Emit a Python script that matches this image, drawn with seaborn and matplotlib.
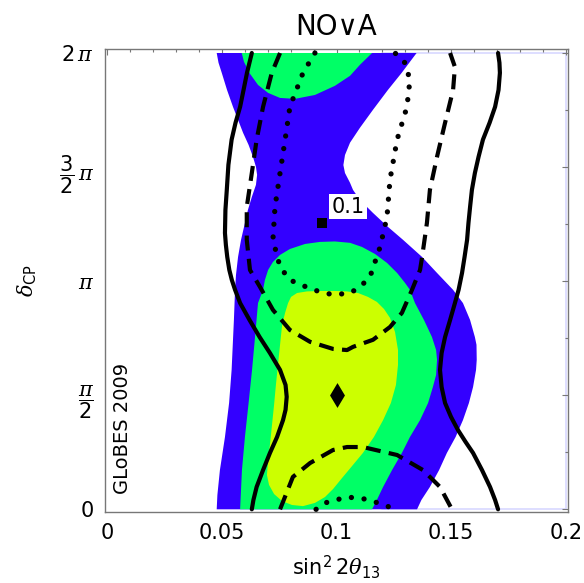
import numpy as np
import matplotlib
matplotlib.use("Agg")
import matplotlib.pyplot as plt
import seaborn as sns
from matplotlib.ticker import MultipleLocator

# ---------------- data (x = sin^2 2theta13, d = delta_CP / pi) ----------------
title = "NO\u2228A"
x_label = r"$\sin^2 2\theta_{13}$"
y_label = r"$\delta_{\mathrm{CP}}$"
watermark = "GLoBES 2009"

x_ticks = [0, 0.05, 0.1, 0.15, 0.2]
x_tick_labels = ["0", "0.05", "0.1", "0.15", "0.2"]
y_ticks = [0, 0.5, 1.0, 1.5, 2.0]
y_tick_labels = ["0", r"$\dfrac{\pi}{2}$", r"$\pi$", r"$\dfrac{3}{2}\,\pi$", r"$2\,\pi$"]

# 3 sigma region (blue): left edge top->bottom, right edge bottom->top
blue_left_x = [0.0478, 0.0486, 0.0500, 0.0523, 0.0549, 0.0571, 0.0593, 0.0617, 0.0636, 0.0649,
               0.0654, 0.0649, 0.0631, 0.0614, 0.0601, 0.0584, 0.0571, 0.0562, 0.0558, 0.0553,
               0.0543, 0.0532, 0.0514, 0.0492, 0.0481, 0.0478]
blue_left_d = [2.0, 1.957, 1.913, 1.838, 1.764, 1.707, 1.650, 1.597, 1.545, 1.501,
               1.466, 1.422, 1.369, 1.312, 1.255, 1.181, 1.106, 1.027, 0.962, 0.830,
               0.611, 0.466, 0.317, 0.172, 0.063, 0.0]
blue_right_x = [0.1351, 0.1370, 0.1407, 0.1447, 0.1481, 0.1519, 0.1551, 0.1577, 0.1595, 0.1608,
                0.1611, 0.1610, 0.1603, 0.1582, 0.1551, 0.1508, 0.1438, 0.1373, 0.1290, 0.1224,
                0.1159, 0.1102, 0.1072, 0.1059, 0.1037, 0.1030, 0.1037, 0.1059, 0.1102, 0.1159,
                0.1224, 0.1284, 0.1349]
blue_right_d = [0.0, 0.041, 0.098, 0.172, 0.247, 0.317, 0.391, 0.466, 0.536, 0.611,
                0.655, 0.721, 0.755, 0.830, 0.904, 0.962, 1.036, 1.106, 1.181, 1.238,
                1.299, 1.356, 1.400, 1.431, 1.474, 1.509, 1.553, 1.607, 1.672, 1.751,
                1.838, 1.913, 2.0]

# 2 sigma region (green): lower lobe and upper lobe
green_lo_x = [0.0580, 0.0588, 0.0601, 0.0617, 0.0632, 0.0645, 0.0658, 0.0680, 0.0688, 0.0702,
              0.0723, 0.0754, 0.0797, 0.0863, 0.0928, 0.0993, 0.1059, 0.1111, 0.1168, 0.1220,
              0.1264, 0.1298, 0.1320, 0.1342, 0.1381, 0.1416, 0.1434, 0.1438, 0.1434, 0.1420,
              0.1399, 0.1364, 0.1320, 0.1285, 0.1242, 0.1203, 0.1176, 0.1155]
green_lo_d = [0.0, 0.172, 0.317, 0.466, 0.611, 0.755, 0.904, 0.962, 1.005, 1.049,
              1.084, 1.115, 1.141, 1.163, 1.172, 1.174, 1.168, 1.150, 1.119, 1.080,
              1.036, 0.993, 0.962, 0.904, 0.830, 0.755, 0.698, 0.655, 0.589, 0.536,
              0.466, 0.391, 0.317, 0.247, 0.172, 0.098, 0.041, 0.0]
green_hi_x = [0.0587, 0.0597, 0.0623, 0.0658, 0.0702, 0.0754, 0.0819, 0.0906, 0.0993, 0.1059,
              0.1102, 0.1155]
green_hi_d = [2.0, 1.961, 1.909, 1.860, 1.825, 1.803, 1.799, 1.816, 1.856, 1.900,
              1.948, 2.0]

# 1 sigma region (yellow)
yellow_x = [0.0789, 0.0802, 0.0828, 0.0871, 0.0928, 0.0993, 0.1046, 0.1094, 0.1137, 0.1176,
            0.1207, 0.1233, 0.1255, 0.1268, 0.1268, 0.1259, 0.1237, 0.1203, 0.1163, 0.1115,
            0.1068, 0.1024, 0.0985, 0.0950, 0.0906, 0.0854, 0.0806, 0.0763, 0.0728, 0.0706,
            0.0697, 0.0702, 0.0710, 0.0719, 0.0728, 0.0736, 0.0745, 0.0754, 0.0763, 0.0776]
yellow_d = [0.904, 0.931, 0.948, 0.955, 0.957, 0.957, 0.955, 0.948, 0.931, 0.909,
            0.878, 0.839, 0.777, 0.698, 0.633, 0.545, 0.466, 0.391, 0.317, 0.247,
            0.190, 0.137, 0.089, 0.054, 0.028, 0.014, 0.019, 0.036, 0.067, 0.107,
            0.150, 0.216, 0.283, 0.370, 0.458, 0.545, 0.633, 0.721, 0.808, 0.861]

# solid contours
solid_l_x = [0.0631, 0.0610, 0.0595, 0.0580, 0.0560, 0.0543, 0.0529, 0.0522, 0.0516, 0.0514,
             0.0518, 0.0524, 0.0533, 0.0544, 0.0558, 0.0580, 0.0621, 0.0665, 0.0710, 0.0754,
             0.0778, 0.0783, 0.0778, 0.0767, 0.0741, 0.0710, 0.0680, 0.0652, 0.0638, 0.0631]
solid_l_d = [2.0, 1.913, 1.838, 1.764, 1.694, 1.620, 1.510, 1.400, 1.312, 1.211,
             1.159, 1.106, 1.049, 1.005, 0.962, 0.904, 0.830, 0.755, 0.685, 0.611,
             0.545, 0.493, 0.436, 0.391, 0.317, 0.247, 0.172, 0.098, 0.041, 0.0]
solid_r_x = [0.1704, 0.1710, 0.1712, 0.1706, 0.1691, 0.1667, 0.1638, 0.1619, 0.1603, 0.1590,
             0.1582, 0.1575, 0.1569, 0.1558, 0.1547, 0.1532, 0.1516, 0.1495, 0.1473, 0.1458,
             0.1451, 0.1458, 0.1473, 0.1499, 0.1529, 0.1562, 0.1595, 0.1634, 0.1669, 0.1691,
             0.1704]
solid_r_d = [2.0, 1.957, 1.913, 1.838, 1.764, 1.694, 1.620, 1.545, 1.474, 1.400,
             1.325, 1.255, 1.181, 1.106, 1.036, 0.962, 0.904, 0.830, 0.755, 0.685,
             0.611, 0.536, 0.466, 0.405, 0.348, 0.296, 0.247, 0.172, 0.098, 0.041,
             0.0]

# dashed contours
dash_hi_x = [0.0754, 0.0718, 0.0680, 0.0652, 0.0631, 0.0609, 0.0609, 0.0623, 0.0667, 0.0723,
             0.0797, 0.0885, 0.0985, 0.1046, 0.1072, 0.1159, 0.1233, 0.1285, 0.1329, 0.1364,
             0.1373, 0.1394, 0.1407, 0.1438, 0.1473, 0.1508, 0.1516, 0.1495]
dash_hi_d = [2.0, 1.913, 1.764, 1.620, 1.474, 1.325, 1.181, 1.049, 0.974, 0.874,
             0.786, 0.734, 0.703, 0.698, 0.712, 0.743, 0.799, 0.861, 0.962, 1.049,
             1.106, 1.255, 1.400, 1.545, 1.694, 1.838, 1.939, 2.0]
dash_lo_x = [0.0754, 0.0810, 0.0885, 0.0985, 0.1046, 0.1115, 0.1264, 0.1377, 0.1451, 0.1503]
dash_lo_d = [0.0, 0.142, 0.203, 0.260, 0.273, 0.273, 0.238, 0.172, 0.098, 0.0]

# dotted contours
dot_hi_x = [0.0906, 0.0854, 0.0797, 0.0776, 0.0754, 0.0732, 0.0723, 0.0754, 0.0797, 0.0898,
            0.0985, 0.1059, 0.1102, 0.1146, 0.1190, 0.1220, 0.1233, 0.1264, 0.1307, 0.1320,
            0.1298, 0.1255]
dot_hi_d = [2.0, 1.913, 1.764, 1.620, 1.474, 1.325, 1.181, 1.062, 1.005, 0.962,
            0.940, 0.948, 0.974, 1.019, 1.150, 1.281, 1.444, 1.620, 1.764, 1.882,
            1.957, 2.0]
dot_lo_x = [0.0911, 0.0950, 0.1046, 0.1124, 0.1198, 0.1255]
dot_lo_d = [0.0, 0.028, 0.054, 0.045, 0.023, 0.0]

# markers
best_fit = (0.100, 0.5)
test_point = (0.0935, 1.254)
test_label = "0.1"

# ---------------- styling ----------------
sns.set_style("white")
plt.rcParams["font.family"] = ["DejaVu Sans"]
plt.rcParams["mathtext.fontset"] = "custom"
plt.rcParams["mathtext.rm"] = "DejaVu Sans"
plt.rcParams["mathtext.it"] = "DejaVu Serif:italic"
plt.rcParams["mathtext.bf"] = "DejaVu Sans:bold"
plt.rcParams["text.color"] = "black"
plt.rcParams["axes.labelcolor"] = "black"

BLUE = "#3300ff"
GREEN = "#00ff66"
YELLOW = "#ccff00"
FRAME = "#777777"

PI = np.pi
fig = plt.figure(figsize=(5.84, 5.83), dpi=100)
ax = fig.add_axes([105 / 584, 71 / 583, 463 / 584, 463 / 583])

def rad(d):
    return np.asarray(d) * PI

# lavender border of the plotted region
ax.plot([0.2, 0.2], [0, 2 * PI], color="#d8d8ff", lw=1.2, zorder=0.5)
ax.plot([0.12, 0.2], [0, 0], color="#d8d8ff", lw=1.2, zorder=0.5)
ax.plot([0.12, 0.2], [2 * PI, 2 * PI], color="#d8d8ff", lw=1.2, zorder=0.5)

# filled regions
ax.fill(blue_left_x + blue_right_x, np.concatenate([rad(blue_left_d), rad(blue_right_d)]),
        color=BLUE, lw=0, zorder=1)
ax.fill(green_lo_x, rad(green_lo_d), color=GREEN, lw=0, zorder=2)
ax.fill(green_hi_x, rad(green_hi_d), color=GREEN, lw=0, zorder=2)
ax.fill(yellow_x, rad(yellow_d), color=YELLOW, lw=0, zorder=3)

def draw_line(xs, ds, style, lw):
    sns.lineplot(x=xs, y=rad(ds), sort=False, estimator=None, color="black",
                 lw=lw, ax=ax, zorder=4)
    ln = ax.lines[-1]
    ln.set_solid_joinstyle("round")
    if style == "dashed":
        ln.set_linestyle((0, (3.6, 2.0)))
        ln.set_dash_capstyle("butt")
    elif style == "dotted":
        ln.set_linestyle((0, (0.01, 2.4)))
        ln.set_dash_capstyle("round")

draw_line(solid_l_x, solid_l_d, "solid", 3.0)
draw_line(solid_r_x, solid_r_d, "solid", 3.0)
draw_line(dash_hi_x, dash_hi_d, "dashed", 3.0)
draw_line(dash_lo_x, dash_lo_d, "dashed", 3.0)
draw_line(dot_hi_x, dot_hi_d, "dotted", 3.8)
draw_line(dot_lo_x, dot_lo_d, "dotted", 3.8)

sns.scatterplot(x=[best_fit[0]], y=[best_fit[1] * PI], marker="d", s=160,
                color="black", edgecolor="black", linewidth=0, ax=ax, zorder=6)
sns.scatterplot(x=[test_point[0]], y=[test_point[1] * PI], marker="s", s=60,
                color="black", edgecolor="black", linewidth=0, ax=ax, zorder=6)
ax.annotate(test_label, xy=(test_point[0], test_point[1] * PI), xytext=(19, 12),
            textcoords="offset points", ha="center", va="center", fontsize=15,
            bbox=dict(facecolor="white", edgecolor="none", pad=1.5), zorder=7)

# axes
ax.set_xlim(-0.00087, 0.20087)
ax.set_ylim(-0.037, 2 * PI + 0.055)
ax.set_xticks(x_ticks)
ax.set_xticklabels(x_tick_labels, fontsize=15)
ax.set_yticks(rad(y_ticks))
ax.set_yticklabels(y_tick_labels, fontsize=15)
ax.xaxis.set_minor_locator(MultipleLocator(0.01))
ax.yaxis.set_minor_locator(MultipleLocator(PI / 4))
ax.tick_params(which="both", direction="in", top=True, right=True, color=FRAME,
               width=0.8, labelcolor="black")
ax.tick_params(which="major", length=4, pad=8)
ax.tick_params(which="minor", length=2.5)
for sp in ax.spines.values():
    sp.set_color(FRAME)
    sp.set_linewidth(1.0)

ax.set_xlabel(x_label, fontsize=15, labelpad=7)
ax.set_ylabel(y_label, fontsize=15, labelpad=14)
ax.set_title(title, fontsize=20, pad=10)
ax.text(0.037, 0.181, watermark, transform=ax.transAxes, rotation=90,
        ha="center", va="center", fontsize=14, zorder=7)

fig.savefig("out.png", dpi=100)
